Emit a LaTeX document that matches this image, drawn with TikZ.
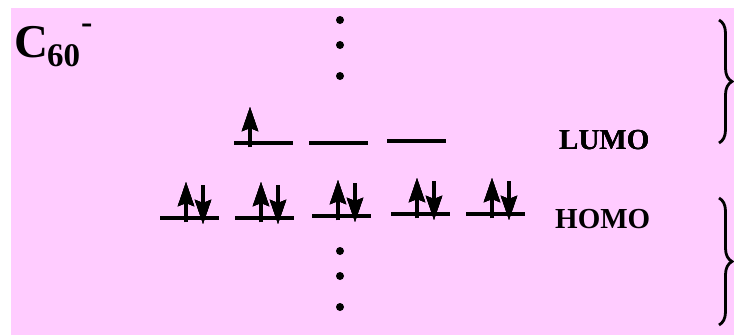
\documentclass[tikz,border=0pt]{standalone}
\usepackage{fontspec}
\setmainfont{Liberation Serif}
\usetikzlibrary{arrows.meta, decorations.pathreplacing}
\definecolor{bgpink}{RGB}{255,204,255}
\tikzset{
  orb/.style={line width=4pt},
  spin/.style={line width=3.5pt, arrows={-Stealth[length=24pt, width=16pt, inset=3pt]}},
  vdot/.style={circle, fill, inner sep=0pt, minimum size=8pt},
  lbl/.style={font=\bfseries\fontsize{29}{32}\selectfont, inner sep=0pt, anchor=base west},
  bracket/.style={line width=2.8pt, decorate, decoration={brace, amplitude=13pt}}
}
\newcommand{\orbital}[2]{\draw[orb] (#1,#2) -- ++(59,0);}
\newcommand{\spinup}[3]{\draw[spin] (#1+#3,#2+4) -- (#1+#3,#2-36);}
\newcommand{\spindown}[3]{\draw[spin] (#1+#3,#2-33) -- (#1+#3,#2+6);}

\begin{document}
\begin{tikzpicture}[x=1pt, y=-1pt]
\useasboundingbox (0,0) rectangle (734,335);
\fill[bgpink] (11,8) rectangle (734,335);
% title
\node[inner sep=0pt, anchor=base west, font=\bfseries\fontsize{47}{50}\selectfont] (c) at (14,57) {C};
\node[inner sep=0pt, anchor=base west, font=\bfseries\fontsize{33}{34}\selectfont] (sub) at (47,66) {60};
\node[inner sep=0pt, anchor=base west, font=\bfseries\fontsize{34}{36}\selectfont] (chg) at (81,33) {-};
% dots above and below
\foreach \y [count=\i] in {20,45,76} \node[vdot] (top\i) at (340,\y) {};
\foreach \y [count=\i] in {251,276,307} \node[vdot] (bot\i) at (340,\y) {};
% LUMO (t1u), one electron
\foreach \x/\y in {234/143, 309/143, 387/141} \orbital{\x}{\y}
\spinup{234}{143}{16}
% HOMO (hu), filled
\foreach \x/\y in {160/218, 235/218, 312/216, 391/214, 466/214} {
  \orbital{\x}{\y}
  \spinup{\x}{\y}{26}
  \spindown{\x}{\y}{43}
}
\node[lbl] (lumo) at (559,149) {LUMO};
\node[lbl] (homo) at (555,228) {HOMO};
% braces on the right
\draw[bracket] (719,20) -- (719,143);
\draw[bracket] (719,198) -- (719,325);
\end{tikzpicture}
\end{document}
